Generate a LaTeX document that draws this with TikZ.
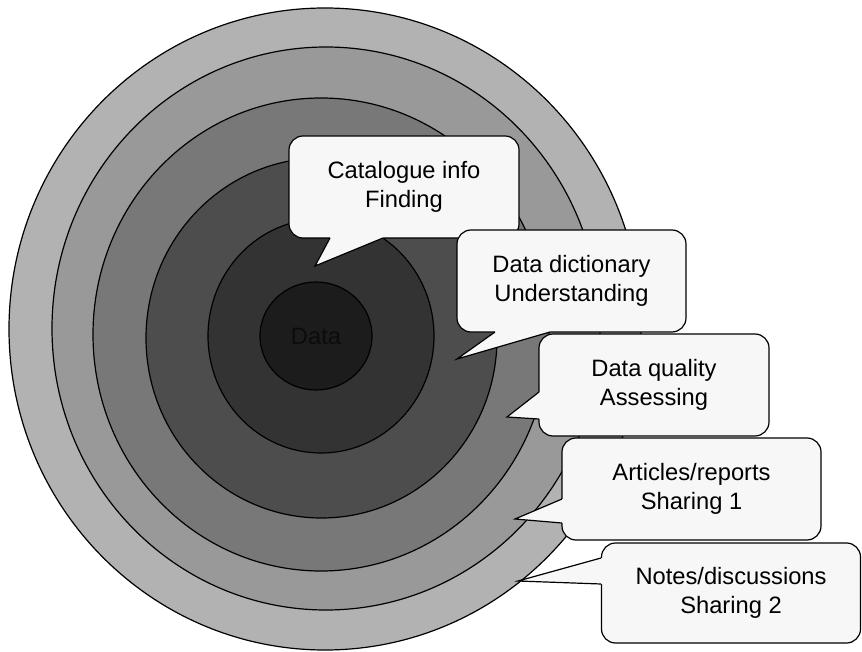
\documentclass[tikz,border=0pt]{standalone}
\usepackage{fontspec}
\setmainfont{Liberation Sans}
\usetikzlibrary{shapes.geometric}
\definecolor{ringA}{HTML}{B2B2B2}
\definecolor{ringB}{HTML}{999999}
\definecolor{ringC}{HTML}{787878}
\definecolor{ringD}{HTML}{4D4D4D}
\definecolor{ringE}{HTML}{333333}
\definecolor{ringF}{HTML}{1C1C1C}
\definecolor{dataText}{HTML}{0C0C0C}
\definecolor{boxfill}{HTML}{F7F7F7}
\begin{document}
\begin{tikzpicture}[x=1pt,y=-1pt,
  ring/.style={draw=black,line width=1.2pt},
  callout/.style={draw=black,line width=1.2pt,fill=boxfill,rounded corners=14pt,
    inner sep=0pt,align=center,font=\fontsize{23.7}{29}\selectfont},
  ptrfill/.style={fill=boxfill},
  ptrline/.style={draw=black,line width=1.2pt,line join=miter}]
\useasboundingbox (0,0) rectangle (862,652);
\fill[white] (0,0) rectangle (862,652);
% rings
\draw[ring,fill=ringA] (325,329) ellipse [x radius=316pt, y radius=321pt];
\draw[ring,fill=ringB] (326,328.5) ellipse [x radius=274pt, y radius=281.5pt];
\draw[ring,fill=ringC] (321,334.5) ellipse [x radius=228pt, y radius=236.5pt];
\draw[ring,fill=ringD] (321.5,338) ellipse [x radius=175.5pt, y radius=180pt];
\draw[ring,fill=ringE] (321,336) ellipse [x radius=113pt, y radius=117pt];
\node[ellipse,draw=black,line width=1.2pt,fill=ringF,minimum width=112pt,minimum height=108pt,
  inner sep=0pt,text=dataText,font=\fontsize{23.7}{29}\selectfont] (data) at (316,336) {Data};
% callout 1
\node[callout,minimum width=230pt,minimum height=102pt] (cat) at (404,187) {Catalogue info\\Finding};
\fill[ptrfill] (330,235.5) -- (330,238) -- (315,266) -- (383,238) -- (383,235.5) -- cycle;
\draw[ptrline] (330,238) -- (315,266) -- (383,238);
% callout 2
\node[callout,minimum width=229pt,minimum height=102pt] (dict) at (571.5,281) {Data dictionary\\Understanding};
\fill[ptrfill] (495,329.5) -- (495,332) -- (457,359) -- (550,332) -- (550,329.5) -- cycle;
\draw[ptrline] (495,332) -- (457,359) -- (550,332);
% callout 3
\node[callout,minimum width=230pt,minimum height=102pt] (qual) at (654,385) {Data quality\\Assessing};
\fill[ptrfill] (541.5,392) -- (539,392) -- (507,417) -- (539,419) -- (541.5,419) -- cycle;
\draw[ptrline] (539,392) -- (507,417) -- (539,419);
% callout 4
\node[callout,minimum width=259pt,minimum height=102pt] (art) at (691.5,489) {Articles/reports\\Sharing 1};
\fill[ptrfill] (564.5,499) -- (562,499) -- (515,519) -- (562,523) -- (564.5,523) -- cycle;
\draw[ptrline] (562,499) -- (515,519) -- (562,523);
% callout 5
\node[callout,minimum width=259pt,minimum height=100pt] (notes) at (731,593) {Notes/discussions\\Sharing 2};
\fill[ptrfill] (603.5,558) -- (601,558) -- (518,581) -- (601,584) -- (603.5,584) -- cycle;
\draw[ptrline] (601,558) -- (518,581) -- (601,584);
\end{tikzpicture}
\end{document}
